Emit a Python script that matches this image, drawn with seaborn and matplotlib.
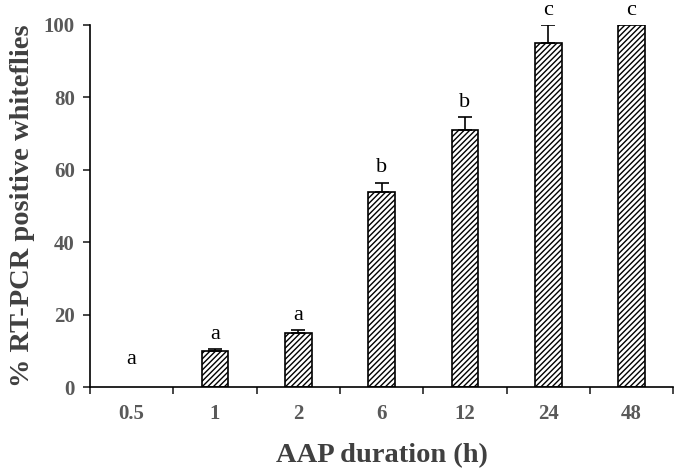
import matplotlib.pyplot as plt
import numpy as np
import pandas as pd
import seaborn as sns

# data
durations = ["0.5", "1", "2", "6", "12", "24", "48"]
positive_pct = [0, 10, 15, 54, 71, 95, 100]
upper_err = [0, 0.5, 0.8, 2.5, 3.6, 4.9, 0]
letters = ["a", "a", "a", "b", "b", "c", "c"]

df = pd.DataFrame({"duration": durations, "pct": positive_pct})

sns.set_style("white")
plt.rcParams['font.family'] = ['Liberation Serif', 'DejaVu Serif']
plt.rcParams['hatch.linewidth'] = 1.0

fig = plt.figure(figsize=(6.75, 4.71), dpi=100)
ax = fig.add_axes([0.1333, 0.178, 0.864, 0.769])

sns.barplot(data=df, x="duration", y="pct", color="white", width=0.32,
            edgecolor="black", linewidth=1.2, errorbar=None, ax=ax)
for bar in ax.patches:
    bar.set_hatch("//////")
    if bar.get_height() == 0:
        bar.set_visible(False)

# only the plus side of the error bar, skip zero errors
x = np.arange(len(durations))
y = np.array(positive_pct)
err = np.array(upper_err)
m = err > 0
ax.errorbar(x[m], y[m], yerr=[np.zeros(m.sum()), err[m]],
            fmt="none", ecolor="black", elinewidth=1.2, capsize=5, capthick=1.2)

for i, (v, e, lab) in enumerate(zip(positive_pct, upper_err, letters)):
    off = 5 if v == 0 else 1.5
    ax.text(i, v + e + off, lab, ha="center", va="bottom", fontsize=16,
            color="black", clip_on=False)

ax.set_xlim(-0.5, len(durations) - 0.5)
ax.set_ylim(0, 100)
ax.set_yticks(range(0, 101, 20))

# excel style: ticks between categories
ax.set_xticks([i - 0.5 for i in range(len(durations) + 1)], minor=True)
ax.tick_params(axis="x", which="major", length=0, pad=12)
ax.tick_params(axis="x", which="minor", direction="out", length=5, width=1.2,
               bottom=True)
ax.tick_params(axis="y", direction="out", length=5, width=1.2, left=True, pad=6)

for lab in ax.get_xticklabels() + ax.get_yticklabels():
    lab.set_fontweight("bold")
    lab.set_fontsize(15)
    lab.set_color("#595959")

ax.set_xlabel("AAP duration (h)", fontsize=20.5, fontweight="bold",
              color="#404040", labelpad=14)
ax.set_ylabel("% RT-PCR positive whiteflies", fontsize=20.5, fontweight="bold",
              color="#404040", labelpad=6)

sns.despine(ax=ax)
ax.spines["left"].set_linewidth(1.2)
ax.spines["bottom"].set_linewidth(1.2)
ax.spines["left"].set_color("black")
ax.spines["bottom"].set_color("black")

fig.savefig("out.png", dpi=100)
